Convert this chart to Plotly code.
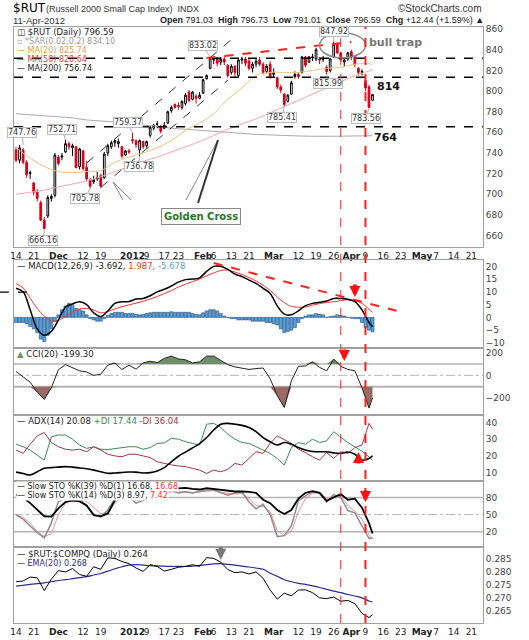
import numpy as np
import pandas as pd
import plotly.graph_objects as go
from plotly.subplots import make_subplots

# trading days on the chart (market holidays taken out); the axis runs on into late May
holidays = ["2011-11-24", "2011-12-26", "2012-01-02", "2012-01-16", "2012-02-20", "2012-04-06"]
calendar = [d.strftime("%Y-%m-%d") for d in pd.bdate_range("2011-11-14", "2012-05-25")
            if d.strftime("%Y-%m-%d") not in holidays]
days = calendar[:calendar.index("2012-04-11") + 1]

# daily candles, $RUT
open_ = [743, 733, 743, 731, 720, 711, 702, 692, 675, 679,
         696, 699, 736, 736, 741, 749, 745, 746, 727, 742,
         726, 714, 712, 715, 718, 716, 740, 746, 750, 749,
         746, 738, 742, 753, 752, 743, 751, 747, 757, 764,
         768, 766, 764, 769, 781, 787, 786, 784, 788, 799,
         792, 795, 793, 798, 812, 822, 830, 832, 828, 831,
         825, 818, 824, 815, 830, 831, 829, 822, 826, 830,
         826, 819, 826, 816, 813, 804, 797, 790, 797, 814,
         816, 818, 833, 828, 832, 831, 831, 831, 823, 820,
         833, 846, 837, 828, 831, 838, 834, 822, 818, 810,
         804, 791.03]
high = [746, 747.76, 745, 733, 723, 712, 705, 694, 678, 699,
        700, 740, 738, 740, 752.71, 751, 749, 747, 745, 743,
        732, 716, 718, 722, 720, 741, 749, 752, 753, 754,
        747, 743, 744, 759.37, 753, 753, 752, 752, 766, 768,
        771, 767, 770, 781, 786, 788, 789, 791, 798, 801,
        800, 797, 799, 812, 816, 833.02, 833, 833, 833, 834,
        826, 826, 825, 832, 833, 833, 832, 828, 831, 833,
        828, 826, 829, 822, 814, 806, 798, 797, 810, 819,
        818, 834, 834, 834, 836, 842, 833, 834, 825, 832,
        847.92, 847, 838, 832, 838, 840, 835, 823, 821, 811,
        806, 796.73]
low = [731, 730, 729, 716, 715, 699, 693, 674, 666.16, 677,
       693, 697, 728, 733, 740, 743, 737, 725, 724, 723,
       713, 705.78, 710, 713, 706, 715, 737, 744, 746, 745,
       735, 737, 739, 749, 745, 736.78, 744, 745, 755, 762,
       764, 759, 763, 768, 779, 783, 782, 782, 786, 789,
       791, 788, 792, 797, 811, 821, 826, 824, 825, 825,
       813, 816, 814, 813, 826, 824, 820, 818, 823, 824,
       816, 817, 812, 813, 802, 798, 785.41, 789, 796, 812,
       812, 817, 823, 827, 829, 829, 826, 828, 815.99, 818,
       832, 836, 828, 824, 829, 830, 823, 815, 815, 800,
       783.56, 791.01]
close = [733, 745, 731, 719, 721, 702, 696, 675, 667, 697,
         698, 738, 730, 737, 749, 746, 747, 726, 744, 725,
         715, 708, 714, 716, 708, 739, 747, 750, 752, 751,
         737, 742, 741, 752, 748, 752, 746, 751, 765, 767,
         768, 761, 767, 780, 784, 784, 785, 790, 796, 791,
         799, 793, 796, 811, 815, 832, 831, 827, 831, 828,
         815, 824, 818, 830, 831, 827, 822, 826, 829, 826,
         818, 824, 814, 818, 804, 801, 787, 796, 808, 816,
         814, 833, 825, 833, 833, 840, 830, 831, 819, 831,
         845, 837, 830, 830, 837, 833, 826, 818, 819, 803,
         784.15, 796.59]

# moving averages read every 4th trading day (plus the last day)
step4 = list(range(0, 101, 4)) + [101]
ma20 = [745, 735, 727, 722, 721, 722, 723, 731, 736, 740, 745, 752, 762, 769,
        778, 792, 803, 815, 818, 818, 818, 820, 822, 823, 826, 826.5, 825.74]
ma50 = [700, 702, 704, 707, 710, 713, 717, 722, 727, 732, 736, 741, 746, 751,
        757, 763, 768, 773, 779, 785, 791, 797, 803, 809, 815, 819.5, 820.64]
ma200 = [778, 777, 776, 775, 774, 772, 771, 770, 768, 767, 766, 764, 763, 762,
         761, 760, 759, 758, 757.5, 757, 756.5, 756.2, 756.2, 756.3, 756.5, 756.7, 756.74]

# indicators read every 2nd trading day (plus the last day)
step2 = list(range(0, 101, 2)) + [101]
macd = [11.4, 10, 3, -4.5, -7, -5.5, -1, 4, 5.3, 6.1,
        5, 1.8, 0.3, 2.5, 5.5, 6.1, 6.2, 7.2, 7.4, 8.5,
        10, 11, 12.3, 13.8, 14.8, 15, 15.5, 18, 20, 20,
        18.8, 17, 16, 14.6, 13.3, 11.4, 9.4, 4.5, 1.3, 1,
        2.6, 4.6, 5.5, 5.9, 6.4, 7.4, 7.4, 7.1, 6.2, 3,
        -2, -3.692]
signal = [13.3, 11.5, 7.5, 3.5, 0.5, -1.5, -1.2, 0.3, 2.1, 3.3,
          3.5, 2.9, 1.8, 2.3, 3.3, 4.2, 4.9, 5.6, 6.3, 7.2,
          8.2, 9.3, 10.5, 11.9, 13, 14, 15, 16.3, 17.4, 18.4,
          18.5, 17.8, 16.8, 15.6, 14.3, 12.6, 10.6, 8, 5.8, 4.3,
          4, 4.1, 4.8, 5.4, 5.9, 6.1, 6.6, 6.9, 6.5, 5.5,
          3.2, 1.987]
# MACD histogram, daily
hist = [-2, -2, -2, -2.5, -3.5, -4.5, -6, -8.5, -9.5, -7,
        -4.5, -1.5, 1, 3, 4.5, 5.5, 5, 3.5, 3, 2.5,
        1, -0.5, -1, -1.5, -1.5, -0.5, 0.8, 1.5, 2, 2,
        2, 1.5, 1.5, 1.5, 1.2, 1, 1.2, 1.5, 1.8, 2,
        2, 2, 2, 2, 2.2, 2, 2, 2, 2, 2,
        1.5, 1.2, 1, 1.8, 2.5, 3, 3, 2.5, 1.5, 0.5,
        0, -0.5, -0.5, -1, -1, -1, -1, -1.5, -1.5, -1.5,
        -1.5, -2, -2, -2.5, -3, -4.5, -6, -5.5, -5, -4,
        -2, -0.5, 0.5, 1, 1, 1.5, 1.2, 1, 0, 0.3,
        0.5, 1, 0.8, 0.5, 0, -0.3, -0.5, -0.5, -2, -4,
        -5, -5.678]
cci = [34, -10, -60, -150, -213, -110, 50, 95, 70, 40,
       30, 0, 10, 90, 110, 52, 90, 55, 110, 125,
       113, 150, 170, 145, 138, 110, 120, 170, 170, 130,
       95, 75, 65, 52, 60, 65, -30, -180, -284, -50,
       80, 83, 120, 70, 40, 144, 80, 52, 40, -110,
       -290, -199.3]
adx = [10.3, 9.5, 8.6, 10.5, 12.6, 13, 13.3, 13.6, 13.3, 12.8,
       12.3, 11.5, 10.5, 9.6, 9.8, 10.1, 10.4, 10.3, 9.8, 10,
       11, 13, 16.5, 19.8, 22.3, 24.8, 27.3, 31, 35.5, 39,
       39.5, 39, 38.3, 37, 34.5, 31, 28.5, 26.5, 28, 27,
       25, 23.5, 22.6, 22.5, 22.5, 21.8, 21.5, 22.3, 21, 17.5,
       18.5, 20.08]
plus_di = [27, 25.5, 23.5, 20.5, 17.5, 31.5, 32.5, 32.5, 30, 26.5,
           24.5, 25.5, 24, 23.8, 24.3, 25, 25.5, 25.5, 24, 25,
           27.5, 27.8, 30.5, 30, 28.5, 27.5, 26.5, 39, 39.5, 37,
           33, 30, 28, 27.5, 25.5, 23.5, 21.5, 18.5, 14.5, 25,
           28, 27, 30, 28, 29, 34.5, 31, 28, 25.5, 22.8,
           19.5, 17.44]
minus_di = [23.5, 21.5, 27, 32, 34, 28, 25.5, 24, 23.5, 24,
            22.5, 25.5, 23.5, 21, 20, 19.5, 21, 21, 20, 19,
            16.5, 15.5, 14.6, 14, 13.6, 12.5, 11.5, 9.5, 11.5, 10.5,
            12, 15.5, 14.5, 18.5, 22.5, 21.5, 27.5, 32, 29.5, 27.5,
            24, 22, 19.5, 17.5, 22, 18.5, 22.5, 21.5, 25, 26.5,
            39.5, 36.04]
sto_k39 = [85, 80, 70, 58, 47, 46.4, 61, 72, 75, 73,
           66, 49, 47, 52, 75, 85, 88, 88, 87, 92,
           95, 96, 97, 96, 97, 95, 94, 96.5, 95, 93.5,
           92, 90.5, 90.5, 90, 88, 76, 70, 58, 51, 58,
           78, 88, 91, 88, 74, 80, 86, 76, 78, 62,
           35, 16.68]
sto_k14 = [49, 42, 30, 18, 9, 35, 73, 79, 73, 76,
           66, 50, 46, 58, 78, 85, 80, 70, 75, 82,
           88, 90, 92, 88, 90, 88, 91, 93, 93, 88,
           84, 88, 90, 72, 60, 68, 50, 11.3, 13, 30,
           74, 83, 90, 88, 72, 85, 80, 57, 53, 30,
           8.2, 8.97]
sto_d3 = [50, 45, 35, 20, 12, 16, 50, 70, 76, 76,
          73, 62, 52, 52, 70, 80, 82, 75, 74, 78,
          85, 88, 90, 90, 89, 89, 90, 91, 92, 89,
          87, 86, 87, 78, 66, 64, 55, 22, 13, 20,
          55, 78, 87, 89, 78, 82, 82, 66, 56, 42,
          15, 7.42]
ratio = [0.2762, 0.2765, 0.2780, 0.2777, 0.2728, 0.2772, 0.2805, 0.2800, 0.2813, 0.2790,
         0.2783, 0.2820, 0.2810, 0.2854, 0.2852, 0.2840, 0.2832, 0.2815, 0.2802, 0.2828,
         0.2821, 0.2803, 0.2810, 0.2818, 0.2821, 0.2828, 0.2821, 0.2855, 0.2852, 0.2838,
         0.2809, 0.2797, 0.2800, 0.2792, 0.2800, 0.2775, 0.2730, 0.2695, 0.2718, 0.2708,
         0.2730, 0.2731, 0.2720, 0.2700, 0.2697, 0.2703, 0.2687, 0.2690, 0.2678, 0.2640,
         0.2624, 0.2635]
ratio_ema = [0.2745, 0.2748, 0.2752, 0.2755, 0.2758, 0.2762, 0.2767, 0.2770, 0.2774, 0.2778,
             0.2782, 0.2788, 0.2794, 0.2803, 0.2812, 0.2820, 0.2826, 0.2828, 0.2826, 0.2824,
             0.2823, 0.2822, 0.2821, 0.2821, 0.2821, 0.2822, 0.2825, 0.2828, 0.2831, 0.2832,
             0.2829, 0.2826, 0.2822, 0.2819, 0.2815, 0.2810, 0.2795, 0.2783, 0.2770, 0.2762,
             0.2756, 0.2752, 0.2746, 0.2740, 0.2733, 0.2726, 0.2720, 0.2713, 0.2707, 0.2700,
             0.2688, 0.2684]

# labelled swing highs / lows
swing_dates = ["2011-11-16", "2011-12-05", "2011-11-25", "2011-12-14", "2012-01-03", "2012-01-05",
               "2012-02-03", "2012-03-06", "2012-03-22", "2012-03-26", "2012-04-10"]
swing_values = [747.76, 752.71, 666.16, 705.78, 759.37, 736.78, 833.02, 785.41, 815.99, 847.92, 783.56]

# date axis labels
tick_dates = ["2011-11-14", "2011-11-21", "2011-12-01", "2011-12-12", "2011-12-19", "2012-01-03",
              "2012-01-09", "2012-01-17", "2012-01-23", "2012-02-01", "2012-02-06", "2012-02-13",
              "2012-02-21", "2012-03-01", "2012-03-12", "2012-03-19", "2012-03-26", "2012-04-02",
              "2012-04-09", "2012-04-16", "2012-04-23", "2012-05-01", "2012-05-07", "2012-05-14",
              "2012-05-21"]
tick_text = ["14", "21", "<b>Dec</b>", "12", "19", "<b>2012</b>", "9", "17", "23", "<b>Feb</b>", "6",
             "13", "21", "<b>Mar</b>", "12", "19", "26", "<b>Apr</b>", "9", "16", "23", "<b>May</b>",
             "7", "14", "21"]


def pos(date):
    # trading-day position of a date on the x axis
    return calendar.index(date)


def px_x(px):
    # pixel column -> paper fraction
    return (px - 14) / 469


def px_y(py):
    # pixel row -> paper fraction
    return (623 - py) / 596


xd = list(range(len(days)))

fig = make_subplots(rows=6, cols=1, shared_xaxes=True, vertical_spacing=0)

# ---- price panel
fig.add_trace(go.Scatter(x=step4, y=ma200, mode="lines", line=dict(color="#a9a9a9", width=1, shape="spline")), row=1, col=1)
fig.add_trace(go.Scatter(x=step4, y=ma50, mode="lines", line=dict(color="#f4a6a6", width=1, shape="spline")), row=1, col=1)
fig.add_trace(go.Scatter(x=step4, y=ma20, mode="lines", line=dict(color="#efc27e", width=1, shape="spline")), row=1, col=1)
fig.add_trace(go.Candlestick(x=xd, open=open_, high=high, low=low, close=close, whiskerwidth=0,
                             increasing=dict(line=dict(color="black", width=1), fillcolor="white"),
                             decreasing=dict(line=dict(color="#d4001c", width=1), fillcolor="#d4001c")),
              row=1, col=1)

# ---- MACD
fig.add_trace(go.Bar(x=xd, y=hist, marker=dict(color="#5b9fd6", line=dict(color="#1d4f80", width=0.6))), row=2, col=1)
fig.add_trace(go.Scatter(x=step2, y=signal, mode="lines", line=dict(color="#ff3030", width=1, shape="spline")), row=2, col=1)
fig.add_trace(go.Scatter(x=step2, y=macd, mode="lines", line=dict(color="black", width=1.5, shape="spline")), row=2, col=1)

# ---- CCI with shaded extremes
cci_arr = np.array(cci, dtype=float)
fig.add_trace(go.Scatter(x=step2, y=[100] * len(step2), mode="lines", line=dict(width=0), hoverinfo="skip"), row=3, col=1)
fig.add_trace(go.Scatter(x=step2, y=np.maximum(cci_arr, 100), mode="lines", line=dict(width=0),
                         fill="tonexty", fillcolor="#6e8f68"), row=3, col=1)
fig.add_trace(go.Scatter(x=step2, y=[-100] * len(step2), mode="lines", line=dict(width=0), hoverinfo="skip"), row=3, col=1)
fig.add_trace(go.Scatter(x=step2, y=np.minimum(cci_arr, -100), mode="lines", line=dict(width=0),
                         fill="tonexty", fillcolor="#9a6a64"), row=3, col=1)
fig.add_trace(go.Scatter(x=step2, y=cci, mode="lines", line=dict(color="#222", width=1)), row=3, col=1)

# ---- ADX
fig.add_trace(go.Scatter(x=step2, y=plus_di, mode="lines", line=dict(color="#3b8a52", width=1)), row=4, col=1)
fig.add_trace(go.Scatter(x=step2, y=minus_di, mode="lines", line=dict(color="#a8334a", width=1)), row=4, col=1)
fig.add_trace(go.Scatter(x=step2, y=adx, mode="lines", line=dict(color="black", width=1.6, shape="spline")), row=4, col=1)

# ---- slow stochastics
fig.add_trace(go.Scatter(x=step2, y=sto_d3, mode="lines", line=dict(color="#f49090", width=1)), row=5, col=1)
fig.add_trace(go.Scatter(x=step2, y=sto_k14, mode="lines", line=dict(color="#8c8c8c", width=1.5)), row=5, col=1)
fig.add_trace(go.Scatter(x=step2, y=sto_k39, mode="lines", line=dict(color="black", width=1.8)), row=5, col=1)

# ---- $RUT:$COMPQ
fig.add_trace(go.Scatter(x=step2, y=ratio_ema, mode="lines", line=dict(color="#2b2b92", width=1.2, shape="spline")), row=6, col=1)
fig.add_trace(go.Scatter(x=step2, y=ratio, mode="lines", line=dict(color="black", width=1)), row=6, col=1)

# ---- axes
fig.update_xaxes(range=[-0.58, 132.3], rangeslider_visible=False, showgrid=False, zeroline=False,
                 ticks="", tickangle=0, tickvals=[pos(d) for d in tick_dates], ticktext=tick_text,
                 tickfont=dict(size=9, color="#222"), showline=True, mirror=True,
                 linecolor="#a0a0a0", linewidth=1, automargin=False)
fig.update_xaxes(showticklabels=True, row=1, col=1)
fig.update_xaxes(showticklabels=True, row=6, col=1)
fig.update_yaxes(side="right", showgrid=False, zeroline=False, ticks="",
                 tickfont=dict(size=9, color="#444"), showline=True, mirror=True,
                 linecolor="#a0a0a0", linewidth=1, automargin=False)

fig.update_layout(
    width=529, height=640, margin=dict(l=14, r=46, t=27, b=17),
    paper_bgcolor="white", plot_bgcolor="white", showlegend=False, bargap=0.15,
    font=dict(family="DejaVu Sans", size=9, color="#222"),
    yaxis=dict(domain=[0.6309, 1.0], range=[649, 862], dtick=20),
    yaxis2=dict(domain=[0.4614, 0.6091], range=[-12, 22.5], dtick=5),
    yaxis3=dict(domain=[0.349, 0.4614], range=[-351, 242], tickvals=[-200, 0, 200]),
    yaxis4=dict(domain=[0.2383, 0.349], range=[5, 44.5], dtick=10),
    yaxis5=dict(domain=[0.1275, 0.2383], range=[-7, 109], tickvals=[20, 50, 80]),
    yaxis6=dict(domain=[0, 0.1275], range=[0.2603, 0.2896], dtick=0.005, tickformat=".3f"),
)

shapes = []
# support / resistance lines
for lvl in [831.7, 813.3, 765.5]:
    shapes.append(dict(type="line", xref="paper", x0=0, x1=1, yref="y", y0=lvl, y1=lvl,
                       line=dict(color="black", width=1.5, dash="dash")))
# rising channel
shapes.append(dict(type="line", xref="x", yref="y", x0=pos("2011-12-13"), y0=730.3, x1=pos("2012-02-14"), y1=852.7,
                   line=dict(color="#333", width=1, dash="dash")))
shapes.append(dict(type="line", xref="x", yref="y", x0=pos("2011-12-19"), y0=706.7, x1=pos("2012-02-10"), y1=810.4,
                   line=dict(color="#333", width=1, dash="dash")))
# rising red resistance + bull trap ellipse
shapes.append(dict(type="line", xref="x", yref="y", x0=pos("2012-02-02"), y0=832, x1=pos("2012-04-02"), y1=847.5,
                   line=dict(color="#ff2020", width=2, dash="dash")))
shapes.append(dict(type="circle", xref="x", yref="y", x0=pos("2012-03-20"), x1=pos("2012-04-09"), y0=832, y1=856.5,
                   line=dict(color="#888", width=1.5)))
# MACD trendline
shapes.append(dict(type="line", xref="x2", yref="y2", x0=pos("2012-02-06"), y0=21.3, x1=pos("2012-04-20"), y1=2.5,
                   line=dict(color="#ff2020", width=2, dash="dash")))
shapes.append(dict(type="line", xref="paper", yref="y2", x0=-0.03, x1=0.047, y0=9.9, y1=9.9,
                   line=dict(color="black", width=1.2, dash="dash")))
# reference levels
for yref, lvl, dash, w in [("y3", 100, "solid", 1.5), ("y3", -100, "solid", 2), ("y3", 0, "dashdot", 1),
                           ("y5", 80, "solid", 1.5), ("y5", 20, "solid", 1.5), ("y5", 50, "dashdot", 1)]:
    shapes.append(dict(type="line", xref="paper", x0=0, x1=1, yref=yref, y0=lvl, y1=lvl, layer="below",
                       line=dict(color="#b5b5b5", width=w, dash=dash)))
# red vertical markers through every panel
shapes.append(dict(type="line", xref="x", yref="paper", x0=pos("2012-03-28"), x1=pos("2012-03-28"), y0=0, y1=1.0,
                   line=dict(color="#ff2020", width=1, dash="dash")))
shapes.append(dict(type="line", xref="x", yref="paper", x0=pos("2012-04-09"), x1=pos("2012-04-09"), y0=0, y1=1.0,
                   line=dict(color="#ff2020", width=2, dash="dash")))
# golden cross callout pointers
for (xa, ya, xb, yb, c, w) in [(113, 182, 123, 200, "#888", 1), (113, 182, 131, 200, "#888", 1),
                               (218, 140, 186, 200, "#888", 1), (218, 140, 198, 203, "#333", 2)]:
    shapes.append(dict(type="line", xref="paper", yref="paper", x0=px_x(xa), y0=px_y(ya),
                       x1=px_x(xb), y1=px_y(yb), line=dict(color=c, width=w)))
fig.update_layout(shapes=shapes)

ann = []


def text_at(px, py, text, size=9, color="#222", anchor="left", family="DejaVu Sans", bg=None):
    d = dict(xref="paper", yref="paper", x=px_x(px), y=px_y(py), text=text, showarrow=False,
             xanchor=anchor, yanchor="middle", font=dict(size=size, color=color, family=family),
             borderpad=0)
    if bg:
        d["bgcolor"] = bg
    ann.append(d)


# header
text_at(12, 8, "$RUT", size=12, color="black")
text_at(45, 9, "(Russell 2000 Small Cap Index)  INDX", size=9, color="#333", family="Liberation Sans")
text_at(483, 9, "©StockCharts.com", size=10, color="#333", anchor="right", family="Liberation Sans")
text_at(12, 20, "11-Apr-2012", size=9.5, color="#333", family="Liberation Sans")
text_at(485, 20, "<b>Open</b> 791.03  <b>High</b> 796.73  <b>Low</b> 791.01  <b>Close</b> 796.59  "
                 "<b>Chg</b> +12.44 (+1.59%) ▲", size=9, color="#222", anchor="right", family="Liberation Sans")

# panel legends
text_at(16, 32, "◫ $RUT (Daily) 796.59", size=8.5, color="#222")
text_at(16, 41, "▫ *SAR(0.02,0.2) 834.10", size=8, color="#999")
text_at(16, 50, "— MA(20) 825.74", size=8, color="#e0a050")
text_at(16, 59, "— MA(50) 820.64", size=8, color="#e03a3a")
text_at(16, 69, "— MA(200) 756.74", size=8, color="#222")
text_at(16, 266, "— MACD(12,26,9) -3.692, <span style='color:#ff3030'>1.987,</span> "
                 "<span style='color:#5b9fd6'>-5.678</span>", size=8.5, color="#222")
text_at(16, 354, "<span style='color:#6e8f68'>▲</span> CCI(20) -199.30", size=8.5, color="#222")
text_at(16, 421, "— ADX(14) 20.08 <span style='color:#3b8a52'>+DI 17.44</span> "
                 "<span style='color:#a8334a'>-DI 36.04</span>", size=8.5, color="#222")
text_at(16, 486, "— Slow STO %K(39) %D(1) 16.68, <span style='color:#ff3030'>16.68</span>",
        size=8, color="#222", bg="white")
text_at(16, 495, "— Slow STO %K(14) %D(3) 8.97, <span style='color:#ff3030'>7.42</span>",
        size=8, color="#222", bg="white")
text_at(16, 554, "— $RUT:$COMPQ (Daily) 0.264", size=8.5, color="#222")
text_at(16, 563, "— EMA(20) 0.268", size=8, color="#2b2b92")

# chart notes
text_at(376, 86, "<b>814</b>", size=11, color="#111")
text_at(373, 137, "<b>764</b>", size=11, color="#111")
text_at(368, 42, "<b>bull trap</b>", size=11, color="#777")
ann.append(dict(xref="paper", yref="paper", x=px_x(161), y=px_y(208), showarrow=False,
                text="<b>Golden Cross</b>", font=dict(size=10, color="#1f7a1f", family="DejaVu Sans"),
                bordercolor="#888", borderwidth=1, borderpad=2, bgcolor="white"))

# swing labels
offsets = [(-1, -12), (-3, -10), (-1, 11), (-5, 10), (-5, -10), (-1, 10), (-7, -11), (-2, 11), (1, 9), (0, -10), (-3, 10)]
for dt, v, (ox, oy) in zip(swing_dates, swing_values, offsets):
    ann.append(dict(xref="x", yref="y", x=pos(dt), y=v, text=f"{v:.2f}", showarrow=True,
                    ax=ox, ay=oy, arrowhead=0, arrowwidth=0.8, arrowcolor="#999",
                    font=dict(size=8, color="#333"), bgcolor="white", bordercolor="#bbb",
                    borderwidth=1, borderpad=0))

# block arrows
for xr, yr, dt, v, oy, c in [("x2", "y2", "2012-04-03", 8, -14, "#ff1010"),
                             ("x3", "y3", "2012-03-29", 126, -13, "#ff1010"),
                             ("x4", "y4", "2012-04-04", 22.3, 13, "#ff1010"),
                             ("x5", "y5", "2012-04-09", 72, -13, "#ff1010"),
                             ("x6", "y6", "2012-02-08", 0.2847, -14, "#777")]:
    ann.append(dict(xref=xr, yref=yr, x=pos(dt), y=v, text="", showarrow=True, ax=0, ay=oy,
                    arrowhead=2, arrowsize=0.55, arrowwidth=4, arrowcolor=c))

fig.update_layout(annotations=ann)

# the page's default body margin would push the chart 8px off the window corner
fig.write_html("out.html", config={"displayModeBar": False},
               post_script="document.body.style.margin = '0';")
